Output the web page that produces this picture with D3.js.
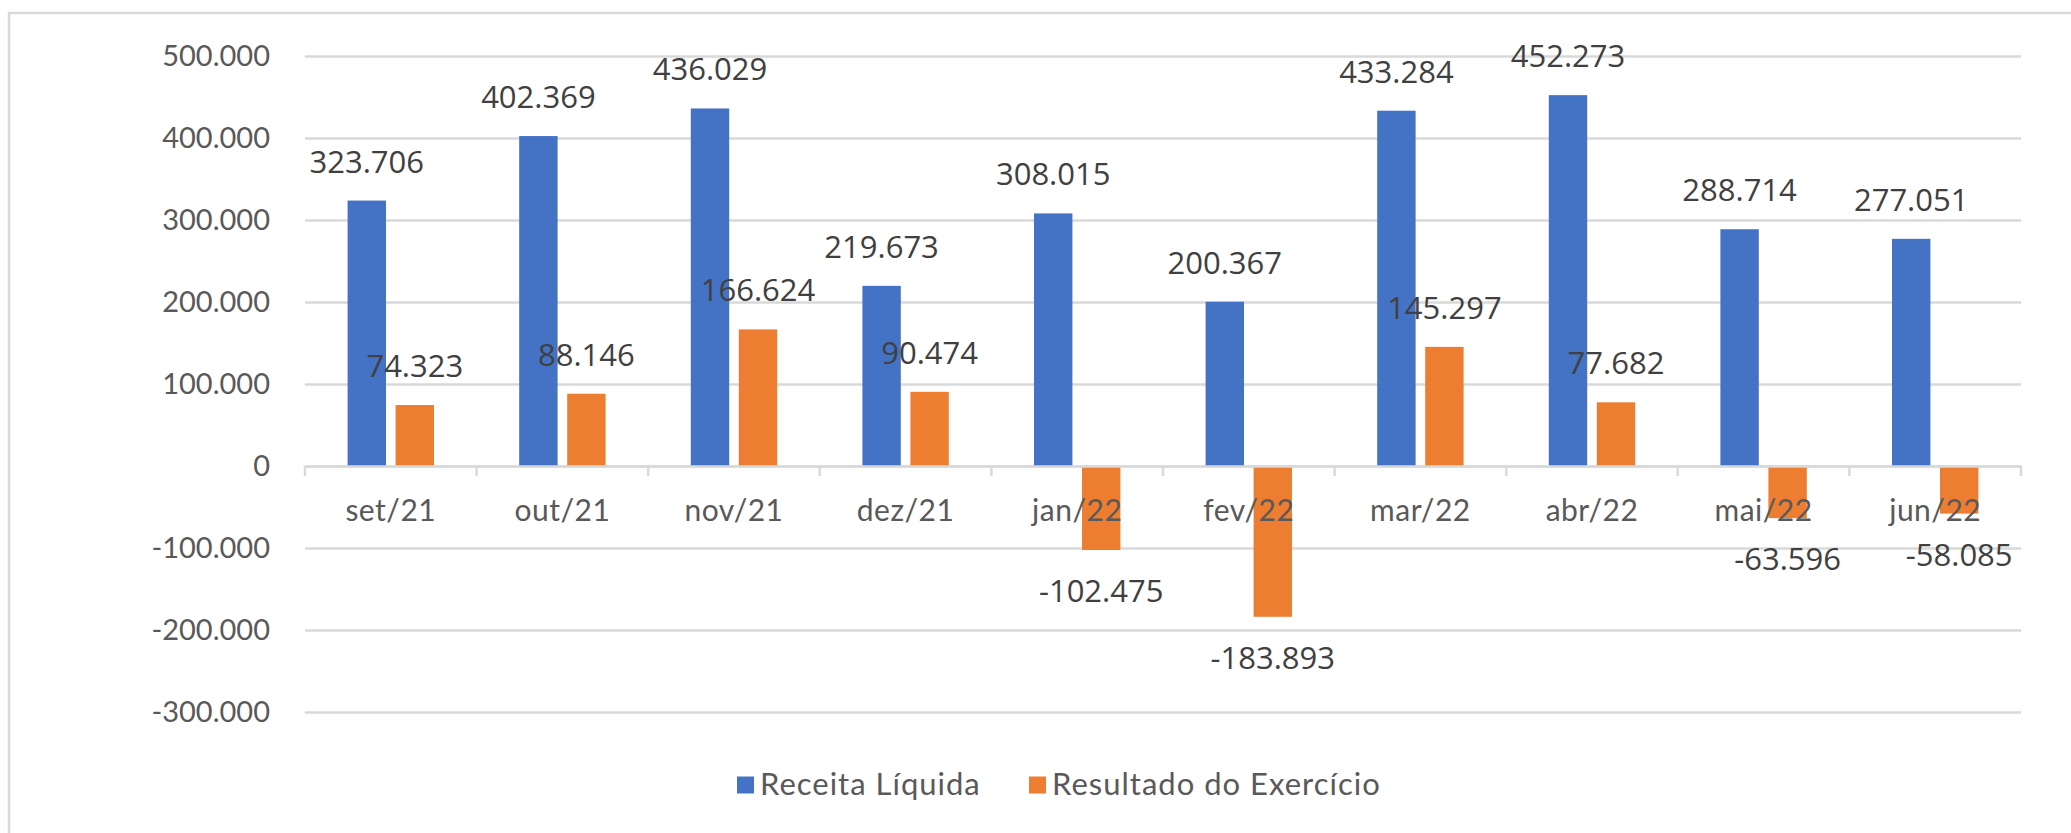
<!DOCTYPE html>
<html>
<head>
<meta charset="utf-8">
<script src="https://cdn.jsdelivr.net/npm/d3@7"></script>
<style>
  body { margin: 0; background: #fff; }
</style>
</head>
<body>
<div id="wrapper"></div>
<script>
const months = ["set/21", "out/21", "nov/21", "dez/21", "jan/22", "fev/22", "mar/22", "abr/22", "mai/22", "jun/22"];
const receitaLiquida = [323706, 402369, 436029, 219673, 308015, 200367, 433284, 452273, 288714, 277051];
const resultadoExercicio = [74323, 88146, 166624, 90474, -102475, -183893, 145297, 77682, -63596, -58085];
const seriesNames = ["Receita Líquida", "Resultado do Exercício"];
const seriesColors = ["#4472c4", "#ed7d31"];
const yTicks = [-300000, -200000, -100000, 0, 100000, 200000, 300000, 400000, 500000];

function buildPlot() {
    const dimension = {
        width: 2071,
        height: 833,
        margin: { top: 56, left: 305, right: 50, bottom: 121 }
    };
    dimension.boundedWidth = dimension.width - dimension.margin.left - dimension.margin.right;
    dimension.boundedHeight = dimension.height - dimension.margin.top - dimension.margin.bottom;

    // formato brasileiro: ponto como separador de milhar
    const locale = d3.formatLocale({ decimal: ",", thousands: ".", grouping: [3], currency: ["R$", ""], minus: "-" });
    const fmt = locale.format(",d");

    const data = months.map((m, i) => ({
        month: m,
        values: [receitaLiquida[i], resultadoExercicio[i]]
    }));

    const svg = d3.select("#wrapper").append("svg")
        .attr("width", dimension.width)
        .attr("height", dimension.height);

    // moldura do gráfico
    svg.append("rect")
        .attr("x", 9).attr("y", 13)
        .attr("width", 2200).attr("height", 1000)
        .attr("fill", "none")
        .attr("stroke", "#d9d9d9")
        .attr("stroke-width", 2.5);

    const bounded = svg.append("g")
        .attr("transform", `translate(${dimension.margin.left}, ${dimension.margin.top})`);

    const yScaler = d3.scaleLinear()
        .domain([-300000, 500000])
        .range([dimension.boundedHeight, 0]);

    const xScaler = d3.scaleBand()
        .domain(months)
        .range([0, dimension.boundedWidth]);

    const bw = xScaler.bandwidth();
    const xSeries = d3.scaleBand()
        .domain([0, 1])
        .range([bw / 2 - 43.2, bw / 2 + 43.2])
        .paddingInner(0.2);

    // grade horizontal + rótulos do eixo y
    const yAxis = d3.axisLeft(yScaler)
        .tickValues(yTicks)
        .tickSize(-dimension.boundedWidth)
        .tickFormat(fmt)
        .tickPadding(35);

    const yG = bounded.append("g").call(yAxis);
    yG.select(".domain").remove();
    yG.selectAll(".tick line")
        .attr("stroke", "#d9d9d9")
        .attr("stroke-width", 2.5);
    yG.selectAll(".tick text")
        .attr("font-family", "Lato, 'Open Sans', sans-serif")
        .attr("font-size", 29)
        .attr("fill", "#595959");

    // barras
    const groups = bounded.append("g")
        .selectAll("g")
        .data(data)
        .join("g")
        .attr("transform", d => `translate(${xScaler(d.month)}, 0)`);

    groups.selectAll("rect")
        .data(d => d.values.map((v, i) => ({ v, i })))
        .join("rect")
        .attr("x", d => xSeries(d.i))
        .attr("width", xSeries.bandwidth())
        .attr("y", d => yScaler(Math.max(0, d.v)))
        .attr("height", d => Math.abs(yScaler(d.v) - yScaler(0)))
        .attr("fill", d => seriesColors[d.i]);

    // eixo das categorias na linha do zero (por cima das barras, como no Excel)
    const zeroY = yScaler(0);
    const xAxis = d3.axisBottom(xScaler).tickSize(0);
    const xG = bounded.append("g")
        .attr("transform", `translate(0, ${zeroY})`)
        .call(xAxis);
    xG.select(".domain")
        .attr("stroke", "#d9d9d9")
        .attr("stroke-width", 2.5);
    xG.selectAll(".tick text")
        .attr("y", 55)
        .attr("dy", 0)
        .attr("font-family", "Lato, 'Open Sans', sans-serif")
        .attr("font-size", 30)
        .attr("letter-spacing", 0.5)
        .attr("fill", "#595959");

    // marcas entre as categorias
    const edges = months.map(m => xScaler(m)).concat([dimension.boundedWidth]);
    xG.selectAll("line.edge")
        .data(edges)
        .join("line")
        .attr("class", "edge")
        .attr("x1", d => d).attr("x2", d => d)
        .attr("y1", 0).attr("y2", 10)
        .attr("stroke", "#d9d9d9")
        .attr("stroke-width", 2.5);

    // rótulos de dados
    groups.selectAll("text")
        .data(d => d.values.map((v, i) => ({ v, i })))
        .join("text")
        .attr("x", d => xSeries(d.i) + xSeries.bandwidth() / 2)
        .attr("y", d => d.v >= 0 ? yScaler(d.v) - 28 : yScaler(d.v) + 52)
        .attr("text-anchor", "middle")
        .attr("font-family", "'Open Sans', sans-serif")
        .attr("font-size", 31)
        .attr("fill", "#404040")
        .text(d => fmt(d.v));
    groups.raise();

    // legenda
    const legendX = [737, 1029];
    const legend = svg.append("g")
        .selectAll("g")
        .data(seriesNames)
        .join("g")
        .attr("transform", (d, i) => `translate(${legendX[i]}, 785)`);

    legend.append("rect")
        .attr("x", 0).attr("y", -8.5)
        .attr("width", 17).attr("height", 17)
        .attr("fill", (d, i) => seriesColors[i]);

    legend.append("text")
        .attr("x", 23)
        .attr("y", 10)
        .attr("font-family", "Lato, 'Open Sans', sans-serif")
        .attr("font-size", 31)
        .attr("letter-spacing", 1)
        .attr("fill", "#595959")
        .text(d => d);
}

buildPlot();
</script>
</body>
</html>
